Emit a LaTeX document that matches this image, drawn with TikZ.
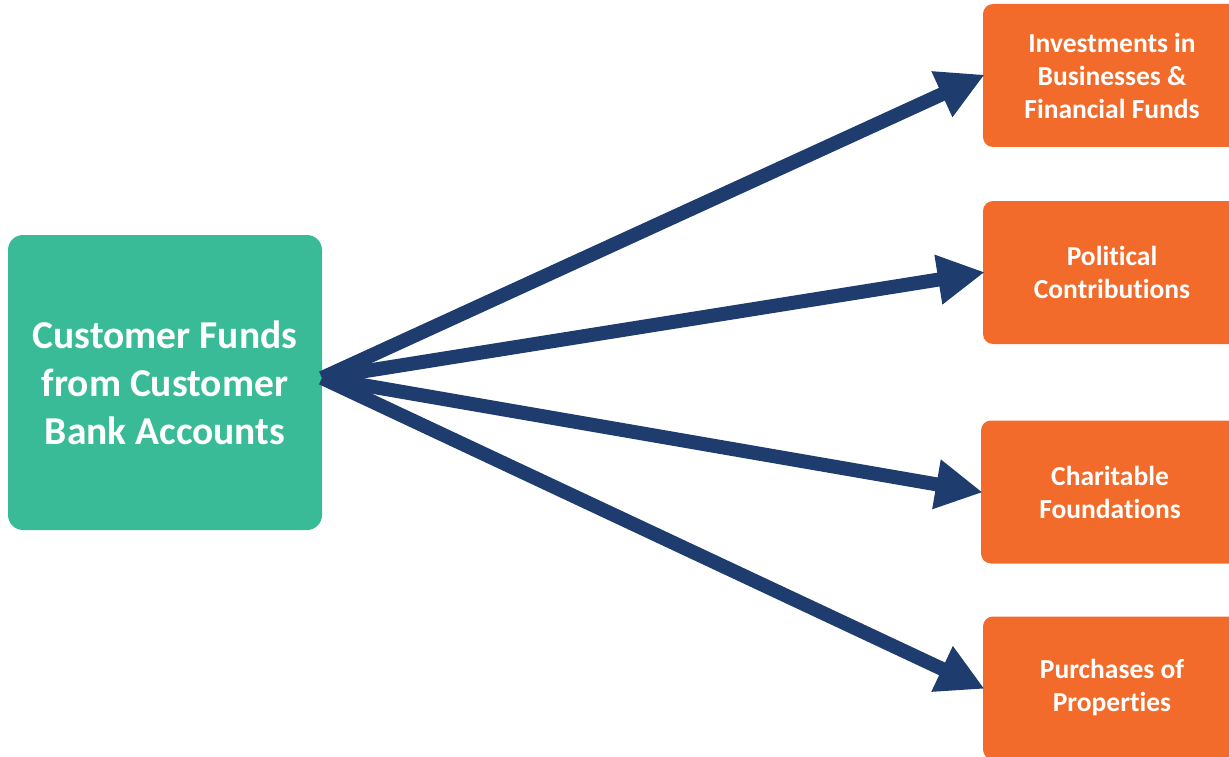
\documentclass[tikz,border=0pt]{standalone}
\usepackage{fontspec}
\setmainfont{Carlito}[Ligatures=NoCommon]
\usepackage{xcolor}
\usetikzlibrary{arrows.meta}

\definecolor{fundgreen}{HTML}{3ABB97}
\definecolor{fundorange}{HTML}{F26B2A}
\definecolor{fundnavy}{HTML}{1E3C6E}

\begin{document}
\begin{tikzpicture}[x=1pt, y=-1pt,
    srcbox/.style={rectangle, rounded corners=15pt, fill=fundgreen, text=white, align=flush center,
        font=\bfseries\fontsize{39.5}{48}\selectfont, text width=305pt, minimum width=314pt, minimum height=295pt},
    destbox/.style={rectangle, rounded corners=10pt, fill=fundorange, text=white, align=flush center,
        font=\bfseries\fontsize{27.5}{33}\selectfont, text width=245pt, minimum width=258pt, minimum height=143pt},
    flow/.style={line width=14pt, draw=fundnavy, -{Triangle[length=47pt, width=47pt]}, shorten >=-2pt}]
            \useasboundingbox (0, 0) rectangle (1229, 757);
            \clip (0, 0) rectangle (1229, 757);

            \node[srcbox] (src) at (165, 382.5) {Customer Funds\\from Customer\\Bank Accounts};

            \node[destbox] (inv) at (1112, 75.5) {Investments in\\Businesses \&\\Financial Funds};
            \node[destbox] (pol) at (1112, 272.5) {Political\\Contributions};
            \node[destbox] (cha) at (1110, 492) {Charitable\\Foundations};
            \node[destbox] (pur) at (1112, 688) {Purchases of\\Properties};

            \coordinate (fork) at (322, 378);

            \draw[flow] (fork) -- (inv.west);
            \draw[flow] (fork) -- (pol.west);
            \draw[flow] (fork) -- (cha.west);
            \draw[flow] (fork) -- (pur.west);
        \end{tikzpicture}
\end{document}
